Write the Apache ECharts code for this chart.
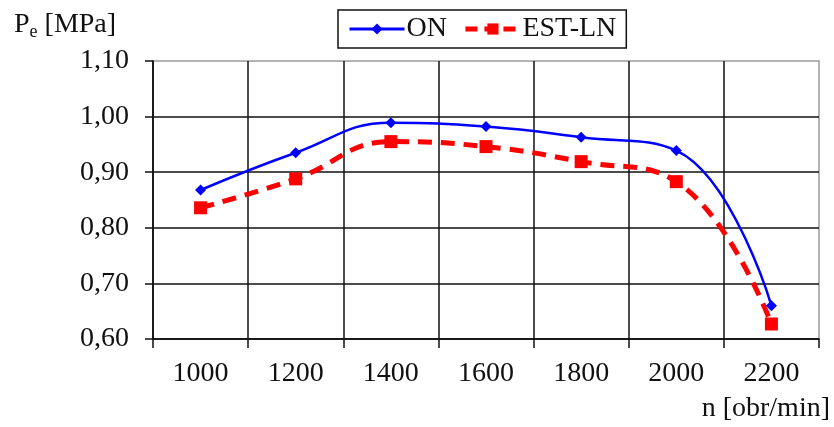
<!DOCTYPE html>
<html><head><meta charset="utf-8">
<script src="https://cdn.jsdelivr.net/npm/echarts@6/dist/echarts.min.js"></script>
<style>html,body{margin:0;padding:0;background:#fff}#c{width:834px;height:427px}</style>
</head><body><div id="c"></div>
<script>
const categories = ['1000','1200','1400','1600','1800','2000','2200'];
const onValues = [0.868, 0.935, 0.989, 0.982, 0.963, 0.939, 0.660];
const estValues = [0.836, 0.888, 0.955, 0.946, 0.919, 0.883, 0.627];
const yTicks = {min: 0.6, max: 1.1, interval: 0.1};
const seriesNames = ['ON', 'EST-LN'];

const FONT = '"Liberation Serif", "Times New Roman", serif';
const chart = echarts.init(document.getElementById('c'), null, {renderer: 'canvas'});
chart.setOption({
  animation: false,
  textStyle: {fontFamily: FONT},
  title: {
    left: 9, top: 4,
    text: '{a|P}{b|e}{a| [MPa]}',
    textStyle: {fontWeight: 'normal', rich: {
      a: {fontFamily: FONT, fontSize: 28, fontWeight: 'normal', color: '#111'},
      b: {fontFamily: FONT, fontSize: 18, fontWeight: 'normal', color: '#111', verticalAlign: 'bottom', padding: [14,0,0,0]}
    }}
  },
  legend: {
    left: 338, top: 10,
    padding: [4, 10, 4, 10],
    borderColor: '#111', borderWidth: 1.5,
    itemWidth: 55, itemHeight: 14, itemGap: 16,
    textStyle: {fontFamily: FONT, fontSize: 28, lineHeight: 30, color: '#111', padding: [0,0,0,-3]},
    data: [
      {name: seriesNames[0], lineStyle: {width: 3}},
      {name: seriesNames[1], lineStyle: {width: 5, type: [12, 7]}}
    ]
  },
  grid: {left: 153, right: 15, top: 61, bottom: 88, show: true, borderColor: '#9a9a9a', borderWidth: 1.5, containLabel: false},
  xAxis: {
    type: 'category', data: categories, boundaryGap: true,
    name: 'n [obr/min]', nameLocation: 'end',
    nameGap: 0,
    nameTextStyle: {fontFamily: FONT, fontSize: 28, color: '#111', align: 'right', verticalAlign: 'top', padding: [56, -11, 0, 0]},
    axisLine: {lineStyle: {color: '#111', width: 1.5}},
    axisTick: {show: true, length: 9, alignWithLabel: false, lineStyle: {color: '#111', width: 1.5}},
    axisLabel: {fontFamily: FONT, fontSize: 28, color: '#111', margin: 21},
    splitLine: {show: true, showMaxLine: false, lineStyle: {color: '#111', width: 1.5}}
  },
  yAxis: {
    type: 'value', min: yTicks.min, max: yTicks.max, interval: yTicks.interval,
    axisLine: {show: true, lineStyle: {color: '#111', width: 1.5}},
    axisTick: {show: true, length: 8, lineStyle: {color: '#111', width: 1.5}},
    axisLabel: {fontFamily: FONT, fontSize: 28, color: '#111', margin: 24,
      formatter: v => v.toFixed(2).replace('.', ',')},
    splitLine: {show: true, showMaxLine: false, lineStyle: {color: '#111', width: 1.5}}
  },
  series: [
    {name: seriesNames[0], type: 'line', data: onValues, smooth: 0.45,
     symbol: 'diamond', symbolSize: 11, z: 3,
     itemStyle: {color: '#0000ff'}, lineStyle: {color: '#0000ff', width: 2.5}},
    {name: seriesNames[1], type: 'line', data: estValues, smooth: 0.45,
     symbol: 'rect', symbolSize: 13, z: 2,
     itemStyle: {color: '#ff0000'}, lineStyle: {color: '#ff0000', width: 5, type: [14, 9]}}
  ]
});
</script></body></html>
